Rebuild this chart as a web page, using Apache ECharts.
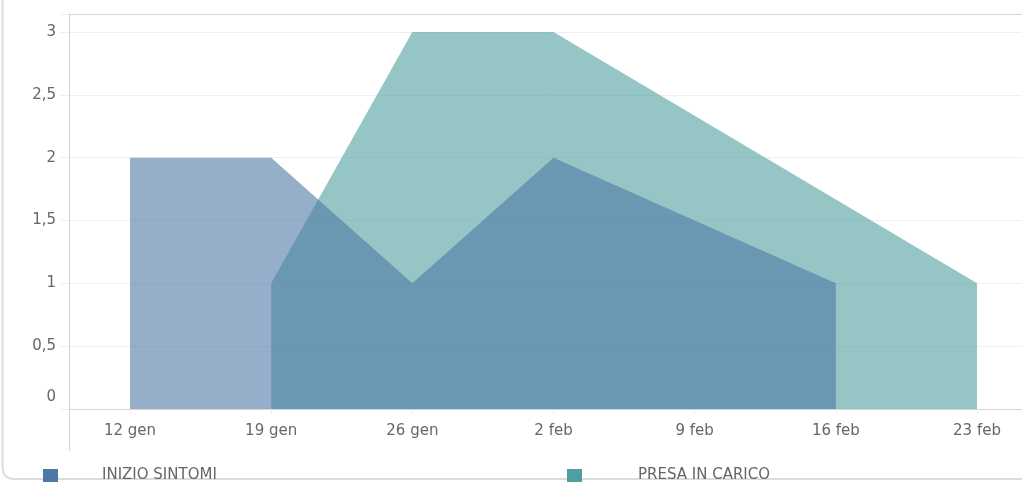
<!DOCTYPE html>
<head>
    <meta charset="utf-8">
    <title>ECharts</title>
</head>
<body style="margin:0">
<div id="main" style="width:1022px;height:483px"></div>
<script src="https://cdn.jsdelivr.net/npm/echarts@6/dist/echarts.min.js"></script>
<script type="text/javascript">
    // dati (null = nessun punto, la linea li collega)
    var settimane = ['12 gen', '19 gen', '26 gen', '2 feb', '9 feb', '16 feb', '23 feb'];
    var inizioSintomi = [2, 2, 1, 2, null, 1, null];
    var presaInCarico = [null, 1, 3, 3, null, null, 1];
    var yTicks = [0, 0.5, 1, 1.5, 2, 2.5, 3];

    var font = 'DejaVu Sans';
    var testo = '#666';
    var yMax = 3.143;

    var myChart = echarts.init(document.getElementById('main'));
    myChart.setOption({
        animation: false,
        textStyle: { fontFamily: font },
        grid: [
            // cornice e asse y
            { left: 69, right: 0, top: 14, bottom: 74 },
            // area dei dati
            { left: 130, right: 45, top: 14, bottom: 74 }
        ],
        legend: [{
            left: 43, top: 468, padding: 0,
            itemWidth: 15, itemHeight: 13,
            icon: 'rect',
            data: ['INIZIO SINTOMI'],
            selectedMode: false,
            textStyle: { color: testo, fontSize: 15, fontFamily: font, padding: [0, 0, 0, 39] }
        }, {
            left: 567, top: 468, padding: 0,
            itemWidth: 15, itemHeight: 13,
            icon: 'rect',
            data: ['PRESA IN CARICO'],
            selectedMode: false,
            textStyle: { color: testo, fontSize: 15, fontFamily: font, padding: [0, 0, 0, 51] }
        }],
        graphic: [
            {
                // bordo della scheda (solo lato sinistro e in basso)
                type: 'polyline', silent: true,
                shape: { points: [[2.5, 0], [2.5, 468], [3.5, 473], [6, 476.5], [10, 478.5], [16, 479], [1022, 479]] },
                style: { fill: 'none', stroke: '#dcdcdc', lineWidth: 2 }
            },
            {
                type: 'line', silent: true,
                shape: { x1: 69.5, y1: 409, x2: 69.5, y2: 451 },
                style: { stroke: '#d4d4d4', lineWidth: 1 }
            }
        ],
        xAxis: [{
            gridIndex: 0, type: 'value', min: 0, max: 1, position: 'bottom',
            axisLine: { show: true, lineStyle: { color: '#d4d4d4' } },
            axisTick: { show: false }, axisLabel: { show: false }, splitLine: { show: false }
        }, {
            gridIndex: 0, type: 'value', min: 0, max: 1, position: 'top',
            axisLine: { show: true, lineStyle: { color: '#d4d4d4' } },
            axisTick: { show: false }, axisLabel: { show: false }, splitLine: { show: false }
        }, {
            gridIndex: 1, type: 'category', boundaryGap: false,
            data: settimane,
            axisLine: { show: false },
            axisTick: { show: true, length: 5, lineStyle: { color: '#ececec' } },
            axisLabel: { color: testo, fontSize: 15, margin: 15 },
            splitLine: { show: false }
        }],
        yAxis: [{
            gridIndex: 0, type: 'value', min: 0, max: yMax, interval: 0.5,
            axisLine: { show: true, lineStyle: { color: '#d4d4d4' } },
            axisTick: { show: true, length: 9, lineStyle: { color: '#efefef' } },
            splitLine: { show: true, lineStyle: { color: '#efefef' } },
            axisLabel: {
                color: testo, fontSize: 15, margin: 13,
                formatter: function (v) {
                    if (yTicks.indexOf(v) < 0) return '';
                    var s = String(v).replace('.', ',');
                    return v === 0 ? '{zero|' + s + '}' : s;
                },
                rich: { zero: { color: testo, fontSize: 15, fontFamily: font, padding: [0, 0, 24, 0] } }
            }
        }, {
            gridIndex: 1, type: 'value', min: 0, max: yMax, show: false
        }],
        series: [{
            name: 'PRESA IN CARICO',
            type: 'line',
            xAxisIndex: 2, yAxisIndex: 1,
            data: presaInCarico,
            connectNulls: true,
            showSymbol: false,
            itemStyle: { color: '#4e9f9f' },
            lineStyle: { width: 0 },
            areaStyle: { color: '#4e9f9f', opacity: 0.6 },
            z: 2
        }, {
            name: 'INIZIO SINTOMI',
            type: 'line',
            xAxisIndex: 2, yAxisIndex: 1,
            data: inizioSintomi,
            connectNulls: true,
            showSymbol: false,
            itemStyle: { color: '#4e79a7' },
            lineStyle: { width: 0 },
            areaStyle: { color: '#4e79a7', opacity: 0.6 },
            z: 3
        }]
    });
</script>
</body>
